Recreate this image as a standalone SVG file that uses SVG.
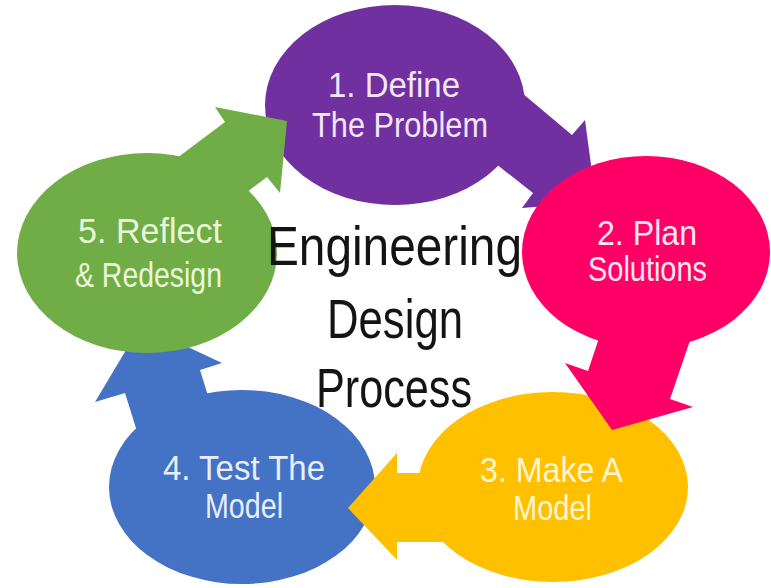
<svg xmlns="http://www.w3.org/2000/svg" width="771" height="588" viewBox="0 0 771 588">
<style>
.lbl{font-family:"Liberation Sans",Arial,sans-serif;font-size:35px}
.title{font-family:"Liberation Sans",Arial,sans-serif;font-size:56px;fill:#141414}
.purple{fill:#7030A0}
.pink{fill:#FF0066}
.gold{fill:#FFC000}
.blue{fill:#4472C4}
.green{fill:#70AD47}
</style>
<rect width="771" height="588" fill="#ffffff"/>
<g id="node-define">
<ellipse class="purple" cx="395" cy="105" rx="130" ry="100"/>
<text class="lbl" fill="#F3E6FA" x="328" y="97" textLength="132" lengthAdjust="spacingAndGlyphs">1. Define</text>
<text class="lbl" fill="#F3E6FA" x="312" y="137" textLength="176" lengthAdjust="spacingAndGlyphs">The Problem</text>
</g>
<g id="node-make">
<ellipse class="gold" cx="553" cy="487" rx="135" ry="95"/>
<text class="lbl" fill="#FFF6D0" x="480" y="482" textLength="143" lengthAdjust="spacingAndGlyphs">3. Make A</text>
<text class="lbl" fill="#FFF6D0" x="513" y="520" textLength="79" lengthAdjust="spacingAndGlyphs">Model</text>
</g>
<g id="node-test">
<ellipse class="blue" cx="242" cy="487" rx="133" ry="97"/>
<text class="lbl" fill="#E6EEFF" x="163" y="480" textLength="162" lengthAdjust="spacingAndGlyphs">4. Test The</text>
<text class="lbl" fill="#E6EEFF" x="205" y="518" textLength="78" lengthAdjust="spacingAndGlyphs">Model</text>
</g>
<g id="connectors">
<polygon class="purple" points="522,93 572,135 585,120 596,202 522,208 533,193 486,156"/>
<polygon class="pink" points="607,314 588,371 565,363 612,430 693,407 670,399 696,323"/>
<polygon class="gold" points="450,473 397,473 397,453 348,508 397,560 397,542 450,542"/>
<polygon class="blue" points="140,441 125,393 95,402 141,325 222,363 200,370 215,418"/>
<polygon class="green" points="169,164 225,122 215,107 287,121 280,193 267,177 211,219"/>
</g>
<g id="node-plan">
<ellipse class="pink" cx="646" cy="252" rx="124" ry="96"/>
<text class="lbl" fill="#FFE8F0" x="597" y="245" textLength="100" lengthAdjust="spacingAndGlyphs">2. Plan</text>
<text class="lbl" fill="#FFE8F0" x="588" y="281" textLength="119" lengthAdjust="spacingAndGlyphs">Solutions</text>
</g>
<g id="node-reflect">
<ellipse class="green" cx="147" cy="253" rx="130" ry="100"/>
<text class="lbl" fill="#EAF6D8" x="78" y="243" textLength="144" lengthAdjust="spacingAndGlyphs">5. Reflect</text>
<text class="lbl" fill="#EAF6D8" x="75" y="287" textLength="147" lengthAdjust="spacingAndGlyphs">&amp; Redesign</text>
</g>
<g id="title">
<text class="title" x="267" y="265" textLength="255" lengthAdjust="spacingAndGlyphs">Engineering</text>
<text class="title" x="327" y="338" textLength="136" lengthAdjust="spacingAndGlyphs">Design</text>
<text class="title" x="316" y="407" textLength="156" lengthAdjust="spacingAndGlyphs">Process</text>
</g>
</svg>
